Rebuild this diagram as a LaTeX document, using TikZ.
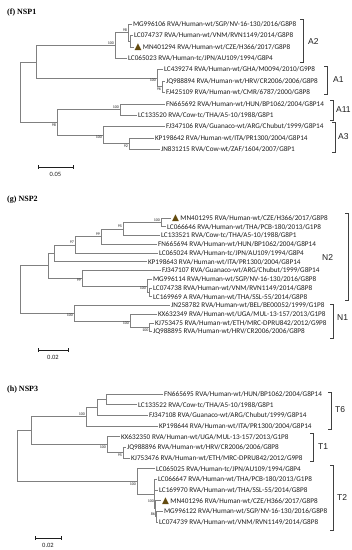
\documentclass[tikz,border=0pt]{standalone}
\usepackage{fontspec}
\setmainfont{Liberation Serif}
\newfontfamily\carl{Carlito}
\newfontfamily\lsans{Liberation Sans}
\newfontfamily\dvs{DejaVu Sans}
\definecolor{brc}{RGB}{128,128,128}
\definecolor{txc}{RGB}{30,30,30}
\definecolor{tric}{RGB}{100,75,15}
\tikzset{
  br/.style={draw=brc, line width=0.55pt},
  leaf/.style={anchor=west, inner sep=0.8pt, text=txc, font=\carl\fontsize{7.2}{8}\selectfont},
  bsa/.style={anchor=south east, inner sep=0.4pt, text=txc, font=\carl\fontsize{4}{4}\selectfont},
  bsb/.style={anchor=north east, inner sep=0.4pt, text=txc, font=\carl\fontsize{4}{4}\selectfont},
  grp/.style={anchor=west, inner sep=0pt, text=txc, font=\lsans\fontsize{8.5}{9}\selectfont},
  brk/.style={draw=txc!85, line width=0.55pt},
  ttl/.style={anchor=west, inner sep=0pt, font=\bfseries\fontsize{8}{9}\selectfont},
  sclab/.style={inner sep=0pt, text=txc, font=\carl\fontsize{6.5}{7}\selectfont},
  scbar/.style={draw=txc, line width=0.6pt}
}
\newcommand\tri{{\dvs\fontsize{9}{8}\selectfont\color{tric}▲}\hspace{1.5pt}}
\begin{document}
\begin{tikzpicture}[x=1pt,y=-1pt]
\fill[white] (0,0) rectangle (352,550);
\useasboundingbox (0,0) rectangle (352,550);

%% ================= NSP1 =================
\node[ttl] (t1) at (7,13) {(f) NSP1};
\node[leaf] (f1) at (132,24) {MG996106 RVA/Human-wt/SGP/NV-16-130/2016/G8P8};
\node[leaf] (f2) at (133,35.4) {LC074737 RVA/Human-wt/VNM/RVN1149/2014/G8P8};
\node[leaf] (f3) at (133.5,46.8) {\tri MN401294 RVA/Human-wt/CZE/H366/2017/G8P8};
\node[leaf] (f4) at (127,58.2) {LC065023 RVA/Human-tc/JPN/AU109/1994/G8P4};
\node[leaf] (f5) at (163,69.6) {LC439274 RVA/Human-wt/GHA/M0094/2010/G9P8};
\node[leaf] (f6) at (165,81) {JQ988894 RVA/Human-wt/HRV/CR2006/2006/G8P8};
\node[leaf] (f7) at (165,92.4) {FJ425109 RVA/Human-wt/CMR/6787/2000/G8P8};
\node[leaf] (f8) at (165,103.8) {FN665692 RVA/Human-wt/HUN/BP1062/2004/G8P14};
\node[leaf] (f9) at (137,115.2) {LC133520 RVA/Cow-tc/THA/A5-10/1988/G8P1};
\node[leaf] (f10) at (165,126.6) {FJ347106 RVA/Guanaco-wt/ARG/Chubut/1999/G8P14};
\node[leaf] (f11) at (154,138) {KP198642 RVA/Human-wt/ITA/PR1300/2004/G8P14};
\node[leaf] (f12) at (160,149.4) {JN831215 RVA/Cow-wt/ZAF/1604/2007/G8P1};

\coordinate (fb) at (130,41.1);
\coordinate (fa) at (128,32.55);
\coordinate (fc) at (115,45.4);
\coordinate (fe) at (162,86.7);
\coordinate (fd) at (157,78.15);
\coordinate (ff) at (36,61.8);
\coordinate (fg) at (120,109.5);
\coordinate (fi) at (129,143.7);
\coordinate (fh) at (103,135.15);
\coordinate (fj) at (57,122.3);
\coordinate (fr) at (20,92.05);

\draw[br] (fb) |- (f2) (fb) |- (f3)
  (fa) |- (f1) (fa) |- (fb)
  (fc) |- (fa) (fc) |- (f4)
  (fe) |- (f6) (fe) |- (f7)
  (fd) |- (f5) (fd) |- (fe)
  (ff) |- (fc) (ff) |- (fd)
  (fg) |- (f8) (fg) |- (f9)
  (fi) |- (f11) (fi) |- (f12)
  (fh) |- (f10) (fh) |- (fi)
  (fj) |- (fg) (fj) |- (fh)
  (fr) |- (ff) (fr) |- (fj);

\node[bsa] (lfa) at (127.5,32.3) {98};
\node[bsa] (lfc) at (114.5,45.1) {100};
\node[bsb] (lfd) at (156.5,78.6) {100};
\node[bsb] (lfe) at (161.5,87.1) {96};
\node[bsa] (lfg) at (119.5,109.2) {100};
\node[bsb] (lfi) at (128.5,144.1) {92};
\node[bsb] (lfh) at (102.5,135.6) {100};
\node[bsb] (lfj) at (56.5,122.7) {98};

\draw[brk] (300,19) -- ++(3,0) -- ++(0,43) -- ++(-3,0);
\node[grp] (gA2) at (308,42) {A2};
\draw[brk] (324,66) -- ++(3,0) -- ++(0,28) -- ++(-3,0);
\node[grp] (gA1) at (333,80) {A1};
\draw[brk] (330,100) -- ++(3,0) -- ++(0,20) -- ++(-3,0);
\node[grp] (gA11) at (336,110) {A11};
\draw[brk] (332,122) -- ++(3,0) -- ++(0,30) -- ++(-3,0);
\node[grp] (gA3) at (338,137) {A3};

\coordinate (s1a) at (38,167);
\coordinate (s1b) at (73,167);
\draw[scbar] (s1a) -- (s1b) (s1a) ++(0,-2) -- ++(0,4) (s1b) ++(0,-2) -- ++(0,4);
\node[sclab] (s1l) at (55.5,174) {0.05};

%% ================= NSP2 =================
\node[ttl] (t2) at (7,200) {(g) NSP2};
\node[leaf] (g1) at (171,218) {\tri MN401295 RVA/Human-wt/CZE/H366/2017/G8P8};
\node[leaf] (g2) at (166,226.75) {LC066646 RVA/Human-wt/THA/PCB-180/2013/G1P8};
\node[leaf] (g3) at (160,235.5) {LC133521 RVA/Cow-tc/THA/A5-10/1988/G8P1};
\node[leaf] (g4) at (157,244.25) {FN665694 RVA/Human-wt/HUN/BP1062/2004/G8P14};
\node[leaf] (g5) at (158,253) {LC065024 RVA/Human-tc/JPN/AU109/1994/G8P4};
\node[leaf] (g6) at (147,261.75) {KP198643 RVA/Human-wt/ITA/PR1300/2004/G8P14};
\node[leaf] (g7) at (161,270.5) {FJ347107 RVA/Guanaco-wt/ARG/Chubut/1999/G8P14};
\node[leaf] (g8) at (152,279.25) {MG996114 RVA/Human-wt/SGP/NV-16-130/2016/G8P8};
\node[leaf] (g9) at (152,288) {LC074738 RVA/Human-wt/VNM/RVN1149/2014/G8P8};
\node[leaf] (g10) at (152,296.75) {LC169969 A RVA/Human-wt/THA/SSL-55/2014/G8P8};
\node[leaf] (g11) at (170,305.5) {JN258782 RVA/Human-wt/BEL/BE00052/1999/G1P8};
\node[leaf] (g12) at (157,314.25) {KX632349 RVA/Human-wt/UGA/MUL-13-157/2013/G1P8};
\node[leaf] (g13) at (154,323) {KJ753475 RVA/Human-wt/ETH/MRC-DPRU842/2012/G9P8};
\node[leaf] (g14) at (152,331.75) {JQ988895 RVA/Human-wt/HRV/CR2006/2006/G8P8};

\coordinate (ga) at (161,222.375);
\coordinate (gb) at (123,228.94);
\coordinate (gc) at (101,236.6);
\coordinate (gd) at (75,244.8);
\coordinate (ge) at (54,253.27);
\coordinate (gi) at (149,292.375);
\coordinate (gh) at (147,285.8);
\coordinate (gg) at (82,278.15);
\coordinate (gf) at (48,265.7);
\coordinate (gk) at (149.5,327.375);
\coordinate (gj) at (130,320.8);
\coordinate (gn) at (74,313.15);
\coordinate (gr) at (20,289.4);

\draw[br] (ga) |- (g1) (ga) |- (g2)
  (gb) |- (ga) (gb) |- (g3)
  (gc) |- (gb) (gc) |- (g4)
  (gd) |- (gc) (gd) |- (g5)
  (ge) |- (gd) (ge) |- (g6)
  (gi) |- (g9) (gi) |- (g10)
  (gh) |- (g8) (gh) |- (gi)
  (gg) |- (g7) (gg) |- (gh)
  (gf) |- (ge) (gf) |- (gg)
  (gk) |- (g13) (gk) |- (g14)
  (gj) |- (g12) (gj) |- (gk)
  (gn) |- (g11) (gn) |- (gj)
  (gr) |- (gf) (gr) |- (gn);

\node[bsa] (lga) at (160.5,222.1) {100};
\node[bsa] (lgb) at (122.5,228.6) {95};
\node[bsa] (lgc) at (100.5,236.3) {99};
\node[bsa] (lgd) at (74.5,244.5) {97};
\node[bsb] (lgg) at (81.5,278.6) {99};
\node[bsb] (lgh) at (146.5,286.2) {100};
\node[bsb] (lgn) at (73.5,313.6) {100};
\node[bsb] (lgj) at (129.5,321.2) {100};
\node[bsb] (lgk) at (149,327.8) {100};

\draw[brk] (345,213) -- ++(3,0) -- ++(0,87) -- ++(-3,0);
\node[grp] (gN2) at (322,258) {N2};
\draw[brk] (330,304) -- ++(3,0) -- ++(0,34) -- ++(-3,0);
\node[grp] (gN1) at (337,318) {N1};

\coordinate (s2a) at (38,350);
\coordinate (s2b) at (68,350);
\draw[scbar] (s2a) -- (s2b) (s2a) ++(0,-2) -- ++(0,4) (s2b) ++(0,-2) -- ++(0,4);
\node[sclab] (s2l) at (53,357) {0.02};

%% ================= NSP3 =================
\node[ttl] (t3) at (7,390) {(h) NSP3};
\node[leaf] (h1) at (163,394) {FN665695 RVA/Human-wt/HUN/BP1062/2004/G8P14};
\node[leaf] (h2) at (137,404.67) {LC133522 RVA/Cow-tc/THA/A5-10/1988/G8P1};
\node[leaf] (h3) at (148,415.33) {FJ347108 RVA/Guanaco-wt/ARG/Chubut/1999/G8P14};
\node[leaf] (h4) at (158,426) {KP198644 RVA/Human-wt/ITA/PR1300/2004/G8P14};
\node[leaf] (h5) at (120,436.67) {KX632350 RVA/Human-wt/UGA/MUL-13-157/2013/G1P8};
\node[leaf] (h6) at (126,447.33) {JQ988896 RVA/Human-wt/HRV/CR2006/2006/G8P8};
\node[leaf] (h7) at (130,458) {KJ753476 RVA/Human-wt/ETH/MRC-DPRU842/2012/G9P8};
\node[leaf] (h8) at (155,468.67) {LC065025 RVA/Human-tc/JPN/AU109/1994/G8P4};
\node[leaf] (h9) at (157,479.33) {LC066647 RVA/Human-wt/THA/PCB-180/2013/G1P8};
\node[leaf] (h10) at (158,490) {LC169970 RVA/Human-wt/THA/SSL-55/2014/G8P8};
\node[leaf] (h11) at (161,500.67) {\tri MN401296 RVA/Human-wt/CZE/H366/2017/G8P8};
\node[leaf] (h12) at (163,511.33) {MG996122 RVA/Human-wt/SGP/NV-16-130/2016/G8P8};
\node[leaf] (h13) at (158,522) {LC074739 RVA/Human-wt/VNM/RVN1149/2014/G8P8};

\coordinate (ha) at (106,399.33);
\coordinate (hb) at (97,407.33);
\coordinate (hc) at (86,416.67);
\coordinate (hd) at (123,452.67);
\coordinate (he) at (107,444.67);
\coordinate (hf) at (31,430.67);
\coordinate (hj) at (156.5,516.67);
\coordinate (hi) at (155.5,508.67);
\coordinate (hh) at (154,494);
\coordinate (hg) at (137,481.33);
\coordinate (hr) at (17,456);

\draw[br] (ha) |- (h1) (ha) |- (h2)
  (hb) |- (ha) (hb) |- (h3)
  (hc) |- (hb) (hc) |- (h4)
  (hd) |- (h6) (hd) |- (h7)
  (he) |- (h5) (he) |- (hd)
  (hf) |- (hc) (hf) |- (he)
  (hj) |- (h12) (hj) |- (h13)
  (hi) |- (h11) (hi) |- (hj)
  (hh) |- (h9) (hh) |- (h10) (hh) |- (hi)
  (hg) |- (h8) (hg) |- (hh)
  (hr) |- (hf) (hr) |- (hg);

\node[bsa] (lhc) at (85.5,416.4) {100};
\node[bsb] (lhe) at (106.5,445.1) {100};
\node[bsb] (lhd) at (122.5,453.1) {95};
\node[bsb] (lhg) at (136.5,481.8) {100};
\node[bsa] (lhi) at (154.5,503) {100};
\node[bsa] (lhj) at (155.5,516.4) {86};

\draw[brk] (328,392) -- ++(3,0) -- ++(0,37) -- ++(-3,0);
\node[grp] (gT6) at (335,410) {T6};
\draw[brk] (310,433) -- ++(3,0) -- ++(0,28) -- ++(-3,0);
\node[grp] (gT1) at (318,447) {T1};
\draw[brk] (330,465) -- ++(3,0) -- ++(0,65) -- ++(-3,0);
\node[grp] (gT2) at (337,498) {T2};

\coordinate (s3a) at (35,538);
\coordinate (s3b) at (61,538);
\draw[scbar] (s3a) -- (s3b) (s3a) ++(0,-2) -- ++(0,4) (s3b) ++(0,-2) -- ++(0,4);
\node[sclab] (s3l) at (48,545) {0.02};
\end{tikzpicture}
\end{document}
